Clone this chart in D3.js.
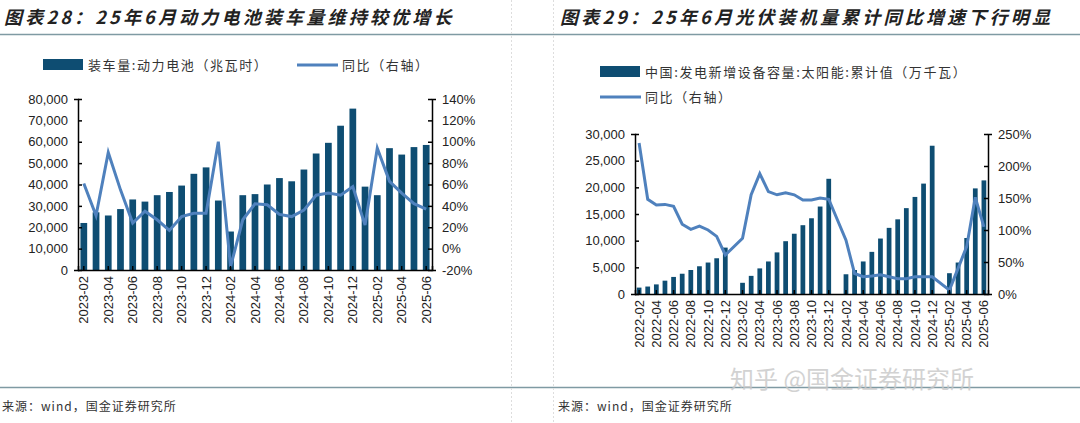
<!DOCTYPE html>
<html><head><meta charset="utf-8">
<script src="https://cdn.jsdelivr.net/npm/d3@7"></script>
<style>body{margin:0;background:#fff}svg{display:block}</style>
</head><body><svg id="c" width="1080" height="423"></svg>
<script>
const months1 = [];
for (let y=2023;y<=2025;y++) for(let m=1;m<=12;m++){const s=y+"-"+String(m).padStart(2,"0"); if(s>="2023-02"&&s<="2025-06") months1.push(s);}
const battery = [22000,27000,25500,28500,33000,32000,35000,36500,39500,45000,48000,32500,18000,35000,35500,40000,43000,41500,47000,54500,59500,67500,75500,39000,35000,57000,54000,57500,58500];
const batteryYoY = [61,31,90,55,24,35,27,17,30,33,33,100,-17,27,42,41,32,30,36,50,52,50,58,22,94,63,52,42,37];
const months2 = [];
for (let y=2022;y<=2025;y++) for(let m=1;m<=12;m++){const s=y+"-"+String(m).padStart(2,"0"); if(s>="2022-02"&&s<="2025-06") months2.push(s);}
const solar = [1200,1400,1800,2500,3200,3800,4500,5200,5900,6700,8700, null,
 2100,3400,4800,6100,7800,9900,11300,12900,14200,16400,21600, null,
 3700,4500,6100,7900,10400,12400,14000,16100,18200,20700,27800, null,
 3900,5900,10500,19800,21300];
const solarYoY = [236,148,139,140,137,109,101,106,100,90,61, null,
 87,155,188,160,155,158,155,147,147,150,148, null,
 84,32,27,28,30,27,24,24,27,27,27, null,
 6,40,74,151,105];
const ticks1 = months1.filter((d,i)=>i%2===0);
const ticks2 = months2.filter((d,i)=>i%2===0);

const svg = d3.select("#c");
const BAR="#0e4d72", LINE="#4f81bd", FONT="Liberation Sans, Arial, sans-serif";
const CJK="'Noto Sans CJK SC', sans-serif";

svg.append("line").attr("x1",0).attr("x2",1080).attr("y1",34.5).attr("y2",34.5).attr("stroke","#7f9aa3").attr("stroke-width",1.5);
svg.append("line").attr("x1",0).attr("x2",1080).attr("y1",387.5).attr("y2",387.5).attr("stroke","#7f9aa3").attr("stroke-width",1.5);
[511,553].forEach(x=>svg.append("line").attr("x1",x+.5).attr("x2",x+.5).attr("y1",0).attr("y2",423).attr("stroke","#ddd").attr("stroke-dasharray","2,2"));
svg.append("text").attr("x",4).attr("y",24).attr("font-family",CJK).attr("font-size",18).attr("letter-spacing",3.2).attr("font-weight","bold").attr("font-style","italic").attr("fill","#222").text("图表28：25年6月动力电池装车量维持较优增长");
svg.append("text").attr("x",560).attr("y",24).attr("font-family",CJK).attr("font-size",18).attr("letter-spacing",3.2).attr("font-weight","bold").attr("font-style","italic").attr("fill","#222").text("图表29：25年6月光伏装机量累计同比增速下行明显");
svg.append("text").attr("x",2).attr("y",411).attr("font-family",CJK).attr("font-size",12).attr("letter-spacing",1).attr("fill","#333").text("来源：wind，国金证券研究所");
svg.append("text").attr("x",558).attr("y",411).attr("font-family",CJK).attr("font-size",12).attr("letter-spacing",1).attr("fill","#333").text("来源：wind，国金证券研究所");
svg.append("text").attr("x",730).attr("y",388).attr("font-family",CJK).attr("font-size",24).attr("fill","#c8c8c8").attr("opacity",0.8).text("知乎 @国金证券研究所");

function chart(o){
  const x=d3.scaleBand().domain(o.cats).range([o.l,o.r]).paddingInner(0.45).paddingOuter(0.2);
  const y=d3.scaleLinear().domain(o.yd).range([o.b,o.t]);
  const y2=d3.scaleLinear().domain(o.y2d).range([o.b,o.t]);
  const g=svg.append("g");
  g.selectAll(".b").data(o.cats.map((c,i)=>[c,o.vals[i]]).filter(d=>d[1]!=null)).join("rect")
   .attr("x",d=>x(d[0])).attr("width",x.bandwidth()).attr("y",d=>y(d[1])).attr("height",d=>o.b-y(d[1])).attr("fill",BAR);
  const ln=d3.line().x(d=>x(d[0])+x.bandwidth()/2).y(d=>y2(d[1]));
  const pts=o.cats.map((c,i)=>[c,o.yoy[i]]).filter(d=>d[1]!=null);
  g.append("path").attr("d",ln(pts)).attr("fill","none").attr("stroke",LINE).attr("stroke-width",3);
  const ya=g.append("g").attr("transform",`translate(${o.l},0)`).call(d3.axisLeft(y).tickValues(o.yt).tickFormat(d3.format(",")).tickSize(4));
  const yb=g.append("g").attr("transform",`translate(${o.r},0)`).call(d3.axisRight(y2).tickValues(o.y2t).tickFormat(d=>d+"%").tickSize(4));
  const xa=g.append("g").attr("transform",`translate(0,${o.b})`).call(d3.axisBottom(x).tickValues(o.xt).tickSize(-4).tickPadding(6));
  [ya,yb,xa].forEach(a=>{a.select(".domain").attr("stroke","#000").attr("stroke-width",1.5);a.selectAll("line").attr("stroke","#000").attr("stroke-width",1.5);a.selectAll("text").attr("font-family",FONT).attr("font-size",13).attr("fill","#222");});
  ya.selectAll(".tick line").attr("x2",4);
  yb.selectAll(".tick line").attr("x2",-4);
  ya.selectAll("text").attr("x",-10);
  yb.selectAll("text").attr("x",10);
  xa.selectAll("text").attr("transform","rotate(-90)").attr("text-anchor","end").attr("dy","0.35em").attr("x",-6).attr("y",0);
}
chart({cats:months1,vals:battery,yoy:batteryYoY,l:78,r:432,t:99,b:270,yd:[0,80000],y2d:[-20,140],
  yt:d3.range(0,80001,10000),y2t:d3.range(-20,141,20),xt:ticks1});
chart({cats:months2,vals:solar,yoy:solarYoY,l:635,r:988,t:134,b:294,yd:[0,30000],y2d:[0,250],
  yt:d3.range(0,30001,5000),y2t:d3.range(0,251,50),xt:ticks2});

function legBar(x,y,t){svg.append("rect").attr("x",x).attr("y",y-6).attr("width",40).attr("height",11).attr("fill",BAR);
 svg.append("text").attr("x",x+45).attr("y",y+5).attr("font-family",CJK).attr("font-size",13).attr("letter-spacing",1.6).attr("fill","#333").text(t);}
function legLine(x,y,t){svg.append("line").attr("x1",x).attr("x2",x+41).attr("y1",y).attr("y2",y).attr("stroke",LINE).attr("stroke-width",3);
 svg.append("text").attr("x",x+45).attr("y",y+5).attr("font-family",CJK).attr("font-size",13).attr("letter-spacing",1.6).attr("fill","#333").text(t);}
legBar(43,65,"装车量:动力电池（兆瓦时）");
legLine(297,65,"同比（右轴）");
legBar(600,72,"中国:发电新增设备容量:太阳能:累计值（万千瓦）");
legLine(600,97,"同比（右轴）");
</script></body></html>
